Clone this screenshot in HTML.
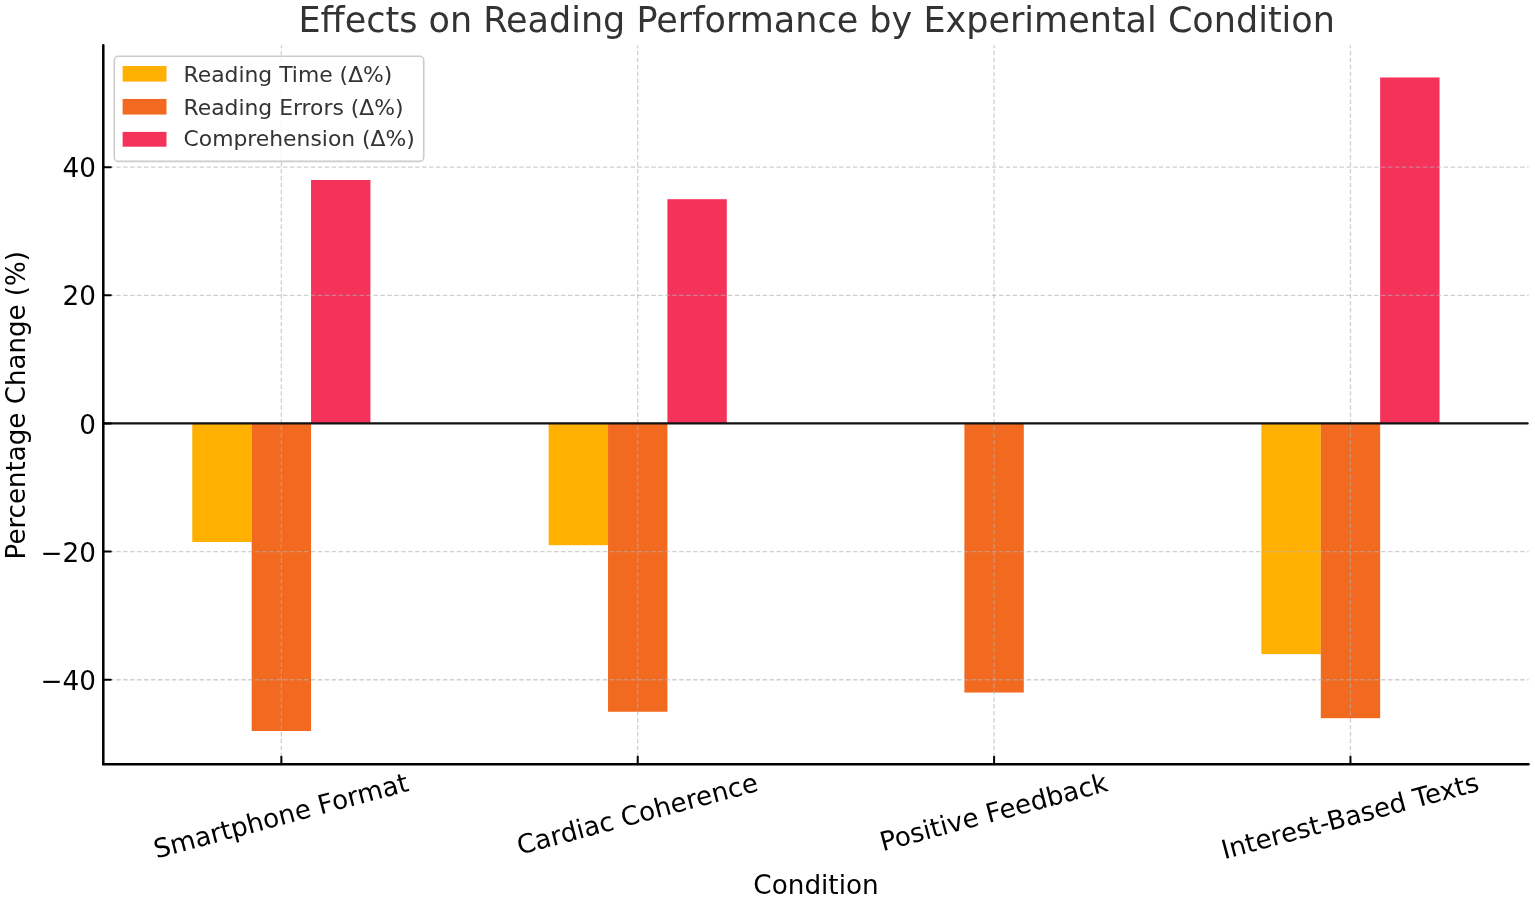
<!DOCTYPE html>
<html><head><meta charset="utf-8"><title>Effects on Reading Performance by Experimental Condition</title>
<style>html,body{margin:0;padding:0;background:#fff;width:1535px;height:899px;overflow:hidden}svg text{font-family:"DejaVu Sans", "Liberation Sans", sans-serif}</style>
</head><body>
<svg width="1535" height="899" viewBox="0 0 1535 899" style="display:block">
<rect width="1535" height="899" fill="#ffffff"/>
<rect x="192.27" y="423.45" width="59.39" height="118.53" fill="#FFB000"/>
<rect x="251.66" y="423.45" width="59.39" height="307.54" fill="#F26A20"/>
<rect x="311.04" y="179.98" width="59.39" height="243.47" fill="#F5325A"/>
<rect x="548.64" y="423.45" width="59.39" height="121.73" fill="#FFB000"/>
<rect x="608.03" y="423.45" width="59.39" height="288.31" fill="#F26A20"/>
<rect x="667.41" y="199.20" width="59.39" height="224.25" fill="#F5325A"/>
<rect x="964.40" y="423.45" width="59.39" height="269.09" fill="#F26A20"/>
<rect x="1261.38" y="423.45" width="59.39" height="230.65" fill="#FFB000"/>
<rect x="1320.77" y="423.45" width="59.39" height="294.72" fill="#F26A20"/>
<rect x="1380.15" y="77.47" width="59.39" height="345.98" fill="#F5325A"/>
<line x1="102.30" y1="167.17" x2="1528.60" y2="167.17" stroke="#b0b0b0" stroke-opacity="0.6" stroke-width="1.3" stroke-dasharray="4.5 2.45"/>
<line x1="102.30" y1="295.31" x2="1528.60" y2="295.31" stroke="#b0b0b0" stroke-opacity="0.6" stroke-width="1.3" stroke-dasharray="4.5 2.45"/>
<line x1="102.30" y1="423.45" x2="1528.60" y2="423.45" stroke="#b0b0b0" stroke-opacity="0.6" stroke-width="1.3" stroke-dasharray="4.5 2.45"/>
<line x1="102.30" y1="551.59" x2="1528.60" y2="551.59" stroke="#b0b0b0" stroke-opacity="0.6" stroke-width="1.3" stroke-dasharray="4.5 2.45"/>
<line x1="102.30" y1="679.73" x2="1528.60" y2="679.73" stroke="#b0b0b0" stroke-opacity="0.6" stroke-width="1.3" stroke-dasharray="4.5 2.45"/>
<line x1="281.35" y1="764.20" x2="281.35" y2="45.20" stroke="#b0b0b0" stroke-opacity="0.6" stroke-width="1.3" stroke-dasharray="4.5 2.45"/>
<line x1="637.72" y1="764.20" x2="637.72" y2="45.20" stroke="#b0b0b0" stroke-opacity="0.6" stroke-width="1.3" stroke-dasharray="4.5 2.45"/>
<line x1="994.09" y1="764.20" x2="994.09" y2="45.20" stroke="#b0b0b0" stroke-opacity="0.6" stroke-width="1.3" stroke-dasharray="4.5 2.45"/>
<line x1="1350.46" y1="764.20" x2="1350.46" y2="45.20" stroke="#b0b0b0" stroke-opacity="0.6" stroke-width="1.3" stroke-dasharray="4.5 2.45"/>
<line x1="103.30" y1="423.45" x2="1527.60" y2="423.45" stroke="#111" stroke-width="2.2" stroke-linecap="round"/>
<path d="M103.30,45.20 L103.30,764.20 L1528.60,764.20" fill="none" stroke="#000" stroke-width="2.5" stroke-linecap="round" stroke-linejoin="miter"/>
<line x1="103.30" y1="167.17" x2="110.80" y2="167.17" stroke="#000" stroke-width="2" stroke-linecap="round"/>
<line x1="103.30" y1="295.31" x2="110.80" y2="295.31" stroke="#000" stroke-width="2" stroke-linecap="round"/>
<line x1="103.30" y1="423.45" x2="110.80" y2="423.45" stroke="#000" stroke-width="2" stroke-linecap="round"/>
<line x1="103.30" y1="551.59" x2="110.80" y2="551.59" stroke="#000" stroke-width="2" stroke-linecap="round"/>
<line x1="103.30" y1="679.73" x2="110.80" y2="679.73" stroke="#000" stroke-width="2" stroke-linecap="round"/>
<line x1="281.35" y1="764.20" x2="281.35" y2="756.70" stroke="#000" stroke-width="2" stroke-linecap="round"/>
<line x1="637.72" y1="764.20" x2="637.72" y2="756.70" stroke="#000" stroke-width="2" stroke-linecap="round"/>
<line x1="994.09" y1="764.20" x2="994.09" y2="756.70" stroke="#000" stroke-width="2" stroke-linecap="round"/>
<line x1="1350.46" y1="764.20" x2="1350.46" y2="756.70" stroke="#000" stroke-width="2" stroke-linecap="round"/>
<text x="95.9" y="177.24" font-size="26.25" text-anchor="end" fill="#000">40</text>
<text x="95.9" y="305.38" font-size="26.25" text-anchor="end" fill="#000">20</text>
<text x="95.9" y="433.52" font-size="26.25" text-anchor="end" fill="#000">0</text>
<text x="95.9" y="561.66" font-size="26.25" text-anchor="end" fill="#000">−20</text>
<text x="95.9" y="689.80" font-size="26.25" text-anchor="end" fill="#000">−40</text>
<g transform="translate(281.35,817.53) rotate(-15)"><text x="0" y="7.25" font-size="26.25" text-anchor="middle" fill="#000">Smartphone Format</text></g>
<g transform="translate(637.72,815.71) rotate(-15)"><text x="0" y="7.25" font-size="26.25" text-anchor="middle" fill="#000">Cardiac Coherence</text></g>
<g transform="translate(994.09,813.93) rotate(-15)"><text x="0" y="7.25" font-size="26.25" text-anchor="middle" fill="#000">Positive Feedback</text></g>
<g transform="translate(1350.46,817.92) rotate(-15)"><text x="0" y="7.25" font-size="26.25" text-anchor="middle" fill="#000">Interest-Based Texts</text></g>
<text x="816" y="894.3" font-size="26.25" text-anchor="middle" fill="#000">Condition</text>
<g transform="translate(24.9,405.2) rotate(-90)"><text x="0" y="0" font-size="26.1" text-anchor="middle" fill="#000">Percentage Change (%)</text></g>
<text x="816.7" y="31.95" font-size="35" text-anchor="middle" fill="#333333">Effects on Reading Performance by Experimental Condition</text>
<rect x="114.3" y="56.3" width="309.4" height="105.1" rx="4" ry="4" fill="#ffffff" fill-opacity="0.8" stroke="#cccccc" stroke-width="1.6"/>
<rect x="122.6" y="66.00" width="43.9" height="15.60" fill="#FFB000"/>
<text x="183.5" y="81.70" font-size="21.875" fill="#333333">Reading Time (Δ%)</text>
<rect x="122.6" y="98.95" width="43.9" height="15.60" fill="#F26A20"/>
<text x="183.5" y="114.50" font-size="21.875" fill="#333333">Reading Errors (Δ%)</text>
<rect x="122.6" y="131.90" width="43.9" height="14.80" fill="#F5325A"/>
<text x="183.5" y="146.40" font-size="21.875" fill="#333333">Comprehension (Δ%)</text>
</svg>
</body></html>
